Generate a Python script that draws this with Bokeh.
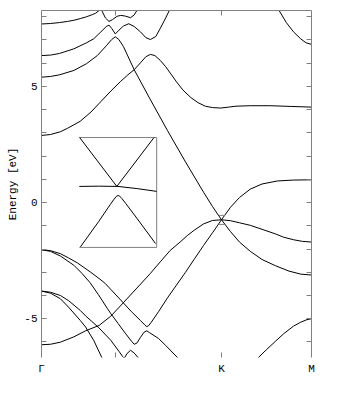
from bokeh.plotting import figure
from bokeh.models import Range1d, LinearAxis, FixedTicker, Grid
from bokeh.embed import file_html
from bokeh.resources import INLINE

# ---------------- data (k path: Gamma=0, K=2, M=3 ; energies in eV) -------------
K_TICKS = [0, 2, 3]
K_LABELS = {0: "\u0393", 2: "K", 3: "M"}
K_MINOR = [0.82, 2]
Y_MAJOR = [-5, 0, 5]
Y_MINOR = [-6, -5, -4, -3, -2, -1, 0, 1, 2, 3, 4, 5, 6, 7, 8]
Y_LABELS = {-5: "-5", 0: "0", 5: "5"}
E_MIN, E_MAX = -6.67, 8.27

band1_k = [0, 0.1, 0.2, 0.29, 0.36, 0.43, 0.5, 0.57, 0.6, 0.64, 0.655, 0.67, 0.71, 0.75, 0.79, 0.84, 0.88, 0.93, 0.99, 1.03, 1.06, 1.1]
band1_e = [7.69, 7.71, 7.75, 7.8, 7.85, 7.92, 8.0, 8.1, 8.15, 8.27, 8.4, 8.27, 7.95, 7.8, 7.88, 8.02, 8.06, 8.03, 7.96, 8.08, 8.27, 8.55]

band2_k = [0, 0.1, 0.2, 0.36, 0.5, 0.58, 0.66, 0.72, 0.75, 0.78, 0.82, 0.86, 0.91, 0.97, 1.03, 1.1, 1.16, 1.21, 1.27, 1.32, 1.38, 1.43, 1.48]
band2_e = [6.33, 6.35, 6.42, 6.62, 6.88, 7.05, 7.35, 7.58, 7.64, 7.5, 7.26, 7.42, 7.6, 7.7, 7.58, 7.35, 7.1, 7.02, 7.15, 7.5, 7.95, 8.35, 8.8]

band3_k = [0, 0.1, 0.2, 0.36, 0.5, 0.62, 0.72, 0.78, 0.82, 0.86, 0.91, 1.03, 1.2, 1.4, 1.6, 1.8, 1.9, 2.0, 2.1, 2.2, 2.32, 2.45, 2.6, 2.75, 2.88, 3.0]
band3_e = [5.4, 5.43, 5.5, 5.69, 5.98, 6.33, 6.75, 7.02, 7.14, 7.02, 6.72, 5.72, 4.5, 3.1, 1.75, 0.45, -0.17, -0.74, -1.25, -1.7, -2.1, -2.45, -2.72, -2.95, -3.08, -3.12]

band4_k = [0, 0.1, 0.21, 0.29, 0.43, 0.55, 0.66, 0.77, 0.88, 0.96, 1.03, 1.1, 1.16, 1.21, 1.26, 1.32, 1.38, 1.43, 1.5, 1.57, 1.66, 1.74, 1.82, 1.9, 1.99, 2.08, 2.16, 2.32, 2.54, 2.77, 3.0]
band4_e = [2.89, 2.93, 3.05, 3.2, 3.5, 3.9, 4.35, 4.8, 5.22, 5.5, 5.72, 6.02, 6.28, 6.38, 6.33, 6.12, 5.85, 5.58, 5.2, 4.85, 4.52, 4.3, 4.15, 4.09, 4.07, 4.11, 4.15, 4.17, 4.17, 4.14, 4.11]

band5_k = [2.58, 2.64, 2.72, 2.8, 2.88, 2.94, 3.0]
band5_e = [8.7, 8.27, 7.75, 7.35, 7.05, 6.88, 6.81]

band6_k = [0, 0.1, 0.21, 0.3, 0.4, 0.54, 0.65, 0.71, 0.77, 0.91, 1.0, 1.1, 1.15, 1.17, 1.19, 1.22, 1.3, 1.4, 1.5, 1.6, 1.7, 1.8, 1.9, 2.0, 2.1, 2.2, 2.32, 2.45, 2.62, 2.8, 3.0]
band6_e = [-2.03, -2.07, -2.2, -2.38, -2.6, -2.98, -3.3, -3.49, -3.74, -4.32, -4.7, -5.08, -5.28, -5.34, -5.3, -5.15, -4.7, -4.1, -3.55, -3.0, -2.42, -1.85, -1.3, -0.74, -0.2, 0.22, 0.58, 0.8, 0.93, 0.97, 0.98]

band7_k = [0, 0.1, 0.21, 0.36, 0.45, 0.54, 0.63, 0.73, 0.77, 0.85, 0.93, 1.0, 1.03, 1.06, 1.1, 1.14, 1.17, 1.2, 1.3, 1.38, 1.51, 1.6]
band7_e = [-2.03, -2.1, -2.3, -2.7, -3.05, -3.45, -3.95, -4.55, -4.78, -5.2, -5.62, -5.97, -6.1, -6.05, -5.8, -5.58, -5.52, -5.6, -5.85, -6.15, -6.67, -7.0]

band8_k = [0, 0.1, 0.21, 0.3, 0.43, 0.49, 0.56, 0.64, 0.77, 0.86, 0.9, 0.92, 0.95, 0.99, 1.03, 1.08, 1.15]
band8_e = [-3.81, -3.86, -4.0, -4.22, -4.64, -4.88, -5.12, -5.4, -5.93, -6.4, -6.62, -6.7, -6.5, -6.36, -6.48, -6.7, -7.0]

band9_k = [0, 0.1, 0.21, 0.3, 0.43, 0.49, 0.58, 0.67, 0.72]
band9_e = [-3.81, -3.9, -4.14, -4.5, -5.07, -5.36, -5.93, -6.67, -7.0]

band10_k = [0, 0.1, 0.21, 0.36, 0.49, 0.64, 0.77, 0.91, 1.06, 1.21, 1.32, 1.43, 1.54, 1.62, 1.7, 1.8, 1.9, 2.0, 2.1, 2.2, 2.32, 2.45, 2.6, 2.69, 2.8, 2.9, 3.0]
band10_e = [-6.12, -6.1, -6.01, -5.78, -5.52, -5.29, -4.89, -4.31, -3.68, -3.05, -2.55, -2.06, -1.7, -1.42, -1.18, -0.92, -0.77, -0.74, -0.78, -0.87, -0.98, -1.15, -1.35, -1.49, -1.6, -1.67, -1.7]

band11_k = [2.35, 2.41, 2.5, 2.6, 2.69, 2.8, 2.88, 2.95, 3.0]
band11_e = [-6.95, -6.67, -6.33, -5.97, -5.65, -5.32, -5.15, -5.04, -5.0]

# small marker box around the Dirac point at K
kbox_k = [1.97, 2.04]
kbox_e = [-0.55, -0.94]

# inset (zoom around K), in inset units
inset_frame_x = [-1, 1, 1, -1]
inset_frame_y = [1, 1, -1, -1]
inset_up_x = [-0.99, -0.03, 0.93]
inset_up_y = [1.0, 0.11, 1.0]
inset_flat_x = [-1.0, -0.5, 0.0, 0.5, 1.0]
inset_flat_y = [0.11, 0.115, 0.11, 0.07, 0.02]
inset_low_x = [-0.97, -0.5, -0.2, -0.1, -0.04, 0.0, 0.04, 0.1, 0.2, 0.5, 0.97]
inset_low_y = [-0.99, -0.53, -0.22, -0.12, -0.07, -0.055, -0.065, -0.11, -0.2, -0.48, -0.93]

bands = [(band1_k, band1_e), (band2_k, band2_e), (band3_k, band3_e), (band4_k, band4_e),
         (band5_k, band5_e), (band6_k, band6_e), (band7_k, band7_e), (band8_k, band8_e),
         (band9_k, band9_e), (band10_k, band10_e), (band11_k, band11_e)]

# ---------------- figure --------------------------------------------------------
FONT = "Liberation Mono"
AX = "#808080"

p = figure(frame_width=270, frame_height=347,
           x_range=Range1d(0, 3), y_range=Range1d(E_MIN, E_MAX),
           output_backend="svg", toolbar_location=None,
           x_axis_location=None, y_axis_location=None,
           min_border_left=41, min_border_top=10, min_border_right=30, min_border_bottom=30)
p.outline_line_color = None
p.background_fill_color = "white"
p.border_fill_color = "white"
p.center = [c for c in p.center if not isinstance(c, Grid)]


def style(ax):
    ax.axis_line_color = AX
    ax.major_tick_line_color = AX
    ax.minor_tick_line_color = AX
    ax.major_tick_in = 5
    ax.major_tick_out = 0
    ax.minor_tick_in = 5
    ax.minor_tick_out = 0
    ax.major_label_text_font = FONT
    ax.major_label_text_color = "black"
    ax.major_label_text_font_size = "11px"


def hide_labels(ax):
    ax.major_label_text_color = None
    ax.major_label_text_font_size = "1px"
    ax.major_label_standoff = 0


left = LinearAxis(ticker=FixedTicker(ticks=Y_MAJOR, minor_ticks=Y_MINOR),
                  major_label_overrides=Y_LABELS, axis_label="Energy [eV]")
style(left)
left.major_label_standoff = 4
left.axis_label_standoff = 2
left.axis_label_text_font = FONT
left.axis_label_text_font_size = "11px"
left.axis_label_text_font_style = "normal"
left.axis_label_text_color = "black"
p.add_layout(left, "left")

right = LinearAxis(ticker=FixedTicker(ticks=[], minor_ticks=Y_MINOR))
style(right)
hide_labels(right)
p.add_layout(right, "right")

bottom = LinearAxis(ticker=FixedTicker(ticks=K_TICKS, minor_ticks=K_MINOR),
                    major_label_overrides=K_LABELS)
style(bottom)
bottom.axis_line_color = None
bottom.major_tick_line_color = None
bottom.major_label_standoff = 5
p.add_layout(bottom, "below")

top = LinearAxis(ticker=FixedTicker(ticks=[], minor_ticks=K_MINOR))
style(top)
hide_labels(top)
p.add_layout(top, "above")

for k, e in bands:
    p.line(k, e, line_color="black", line_width=1)

p.segment(x0=[kbox_k[0], kbox_k[0]], y0=kbox_e, x1=[kbox_k[1], kbox_k[1]], y1=kbox_e,
          line_color=AX, line_width=1)

# inset
INSET_K = (0.42, 1.28)
INSET_E = (-1.93, 2.80)
try:
    ins = p.subplot(x_source=Range1d(-1, 1), y_source=Range1d(-1, 1),
                    x_target=Range1d(*INSET_K), y_target=Range1d(*INSET_E))
    tx = lambda xs: xs
    ty = lambda ys: ys
except Exception:
    ins = p
    tx = lambda xs: [INSET_K[0] + (x + 1) / 2 * (INSET_K[1] - INSET_K[0]) for x in xs]
    ty = lambda ys: [INSET_E[0] + (y + 1) / 2 * (INSET_E[1] - INSET_E[0]) for y in ys]

ins.line(tx(inset_frame_x), ty(inset_frame_y), line_color=AX, line_width=1)
ins.line(tx(inset_up_x), ty(inset_up_y), line_color="black", line_width=1)
ins.line(tx(inset_flat_x), ty(inset_flat_y), line_color="black", line_width=1)
ins.line(tx(inset_low_x), ty(inset_low_y), line_color="black", line_width=1)

open("out.html", "w").write(file_html(p, INLINE))
